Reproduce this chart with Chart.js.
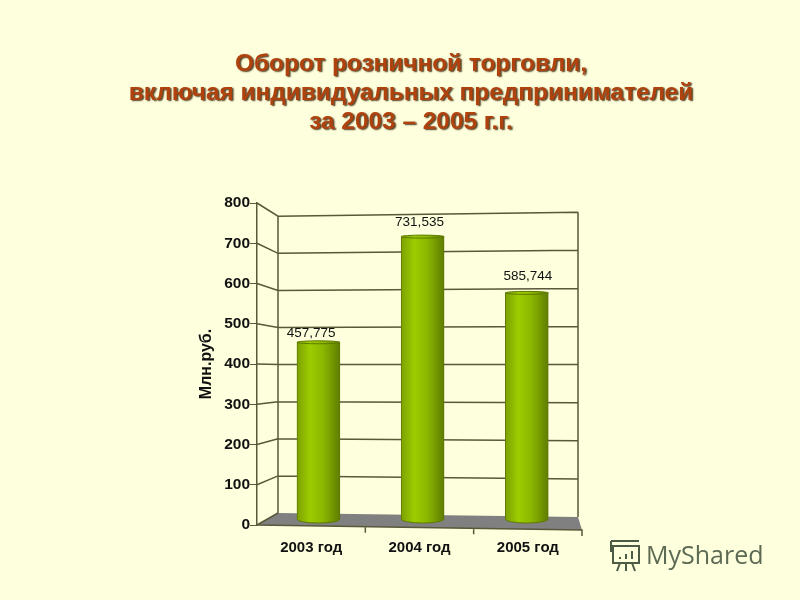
<!DOCTYPE html>
<html lang="ru">
<head>
<meta charset="utf-8">
<title>Оборот розничной торговли</title>
<script src="https://cdn.jsdelivr.net/npm/chart.js@4"></script>
<style>
  html, body { margin: 0; background: #feffdc; }
  canvas { display: block; }
</style>
</head>
<body>
<canvas id="chart" width="800" height="600"></canvas>
<script>
const categories = ['2003 год', '2004 год', '2005 год'];
const years = [2003, 2004, 2005];
const turnover = [457.775, 731.535, 585.744];
const titleLines = [
  'Оборот розничной торговли,',
  'включая индивидуальных предпринимателей',
  'за 2003 – 2005 г.г.'
];
const yAxisTitle = 'Млн.руб.';
const watermark = 'MyShared';

const GRID = '#58583a';
const FONT = '"Liberation Sans", Arial, sans-serif';

// пол, задняя стенка и наклонные линии сетки
const wallPlugin = {
  id: 'wall',
  beforeDatasetsDraw(chart) {
    const { ctx, chartArea: a, scales } = chart;
    const wallL = a.left + 21, wallR = a.right - 4;
    ctx.save();
    ctx.fillStyle = '#808080';
    ctx.beginPath();
    ctx.moveTo(a.left, a.bottom);
    ctx.lineTo(wallL, scales.yWallL.getPixelForValue(0));
    ctx.lineTo(wallR, scales.yWallR.getPixelForValue(0));
    ctx.lineTo(a.right, a.bottom + 5);
    ctx.closePath();
    ctx.fill();

    ctx.strokeStyle = GRID;
    ctx.lineWidth = 1.5;
    ctx.beginPath();
    scales.y.ticks.forEach((t) => {
      ctx.moveTo(a.left, scales.y.getPixelForValue(t.value));
      ctx.lineTo(wallL, scales.yWallL.getPixelForValue(t.value));
      if (t.value > 0) ctx.lineTo(wallR, scales.yWallR.getPixelForValue(t.value));
    });
    ctx.moveTo(wallL, scales.yWallL.getPixelForValue(800));
    ctx.lineTo(wallL, scales.yWallL.getPixelForValue(0));
    ctx.moveTo(wallR, scales.yWallR.getPixelForValue(800));
    ctx.lineTo(wallR, scales.yWallR.getPixelForValue(0));
    ctx.stroke();

    // основание оси X с рисками
    ctx.beginPath();
    ctx.moveTo(a.left, a.bottom);
    ctx.lineTo(a.right, a.bottom + 5);
    ctx.lineTo(a.right, a.bottom + 11);
    [1, 2].forEach((i) => {
      const x = a.left + (a.right - a.left) * i / 3;
      const y = a.bottom + 5 * i / 3;
      ctx.moveTo(x, y);
      ctx.lineTo(x, y + 6);
    });
    ctx.stroke();
    ctx.restore();
  },
  afterDatasetsDraw(chart) {
    const { ctx, scales } = chart;
    const lift = [9, 14, 17];
    ctx.save();
    chart.getDatasetMeta(0).data.forEach((bar, i) => {
      const r = bar.width / 2;
      const grad = barGradient(ctx, bar.x - r, bar.x + r);
      // низ и верх цилиндра
      ctx.fillStyle = grad;
      ctx.strokeStyle = '#5f7a00';
      ctx.beginPath();
      ctx.ellipse(bar.x, bar.base, r, 4, 0, 0, Math.PI);
      ctx.fill();
      ctx.stroke();
      ctx.beginPath();
      ctx.ellipse(bar.x, bar.y, r, 1.5, 0, 0, Math.PI * 2);
      ctx.fill();
      ctx.stroke();
      // подпись значения
      ctx.fillStyle = '#111';
      ctx.font = '13.5px ' + FONT;
      ctx.textAlign = 'center';
      ctx.textBaseline = 'middle';
      ctx.fillText(turnover[i].toFixed(3).replace('.', ','),
        scales.x.getPixelForTick(i), bar.y - lift[i]);
    });
    ctx.restore();
  }
};

// заголовок и логотип
const textPlugin = {
  id: 'texts',
  afterDraw(chart) {
    const { ctx } = chart;
    ctx.save();
    ctx.font = 'bold 24.4px ' + FONT;
    ctx.textAlign = 'center';
    ctx.textBaseline = 'middle';
    ctx.shadowColor = 'rgba(50,30,5,0.85)';
    ctx.shadowOffsetX = 1.5;
    ctx.shadowOffsetY = 1.5;
    ctx.shadowBlur = 1.5;
    ctx.fillStyle = '#b0420e';
    titleLines.forEach((line, i) => ctx.fillText(line, 411, 64 + i * 29));
    ctx.restore();

    ctx.save();
    ctx.fillStyle = '#5c6a54';
    ctx.font = '25px "Open Sans", sans-serif';
    ctx.textAlign = 'left';
    ctx.textBaseline = 'alphabetic';
    ctx.fillText(watermark, 646, 564);
    ctx.strokeStyle = '#4d5a45';
    ctx.lineWidth = 2;
    ctx.strokeRect(613, 546, 26, 17);
    ctx.beginPath();
    ctx.moveTo(611, 541);
    ctx.lineTo(639, 541);
    ctx.moveTo(611, 541);
    ctx.lineTo(611, 552);
    ctx.moveTo(620, 563);
    ctx.lineTo(617, 571);
    ctx.moveTo(626, 563);
    ctx.lineTo(626, 571);
    ctx.moveTo(632, 563);
    ctx.lineTo(635, 571);
    ctx.moveTo(620, 559);
    ctx.lineTo(620, 557);
    ctx.moveTo(626, 559);
    ctx.lineTo(626, 554);
    ctx.moveTo(632, 559);
    ctx.lineTo(632, 551);
    ctx.stroke();
    ctx.restore();
  }
};

function barGradient(ctx, x0, x1) {
  const g = ctx.createLinearGradient(x0, 0, x1, 0);
  g.addColorStop(0, '#7da000');
  g.addColorStop(0.3, '#9ccc00');
  g.addColorStop(0.6, '#8cb800');
  g.addColorStop(1, '#5f7c00');
  return g;
}

new Chart(document.getElementById('chart'), {
  type: 'bar',
  data: {
    labels: categories,
    datasets: [{
      data: years.map((y, i) => ({ x: y, y: turnover[i] })),
      xAxisID: 'xBar',
      yAxisID: 'yBar',
      barThickness: 43,
      borderWidth: 1,
      borderColor: '#5f7a00',
      backgroundColor(c) {
        const x = c.chart.scales.xBar.getPixelForValue(years[c.dataIndex]);
        if (!Number.isFinite(x)) return '#8cb800'; // шкала ещё не размечена
        return barGradient(c.chart.ctx, x - 21.5, x + 21.5);
      },
      clip: false
    }]
  },
  options: {
    responsive: false,
    animation: false,
    layout: { padding: { top: 203, right: 218, bottom: 36, left: 0 } },
    plugins: { legend: { display: false }, tooltip: { enabled: false } },
    scales: {
      x: {
        type: 'category',
        offset: true,
        border: { display: false },
        grid: { display: false, offset: true },
        ticks: { color: '#111', padding: 6, font: { family: FONT, size: 15, weight: 'bold' } },
        afterFit(s) { s.height = 39; }
      },
      y: {
        min: 0,
        max: 800,
        border: { display: true, color: GRID, width: 1.5 },
        grid: { drawOnChartArea: false, color: GRID, tickLength: 7 },
        ticks: { stepSize: 100, color: '#111', padding: 0, font: { family: FONT, size: 15.5, weight: 'bold' } },
        title: {
          display: true,
          text: yAxisTitle,
          color: '#111',
          font: { family: FONT, size: 16, weight: 'bold' },
          padding: { top: 197, bottom: 0 }
        },
        afterFit(s) { s.width = 257; }
      },
      // скрытые шкалы: плоскость столбиков и задняя стенка
      xBar: { type: 'linear', display: false, offset: false, min: 2002.41, max: 2005.53 },
      yBar: { display: false, min: -15.5, max: 818.6 },
      yWallL: { display: false, min: -32.3, max: 835.6 },
      yWallR: { display: false, min: -21, max: 824.1 }
    }
  },
  plugins: [wallPlugin, textPlugin]
});
</script>
</body>
</html>
